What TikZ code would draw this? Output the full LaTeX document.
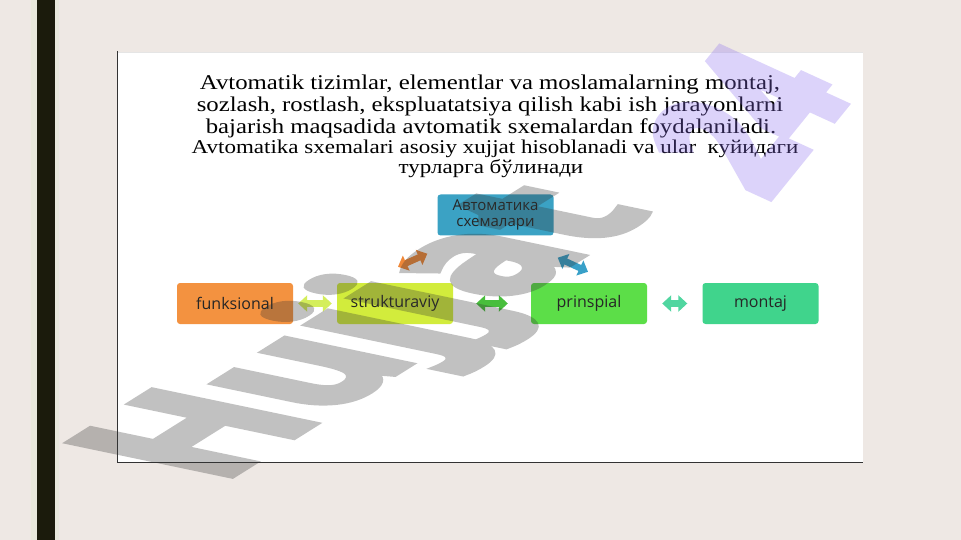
\documentclass[tikz,border=0pt]{standalone}
\usepackage{fontspec}
\setmainfont{Liberation Serif}
\newfontfamily\titlefont[FakeStretch=1.18]{Liberation Serif}
\newfontfamily\boxfont{Open Sans}
\newfontfamily\wmfont[BoldFeatures={FakeBold=4.5}]{Open Sans}
\newfontfamily\wmfontb[BoldFeatures={FakeBold=7}]{Open Sans}
\usetikzlibrary{arrows.meta, calc}

\definecolor{slidebg}{HTML}{EEE8E4}
\definecolor{slidebar}{HTML}{1B1B0C}
\definecolor{barlight}{HTML}{E8E8DC}
\definecolor{avtcol}{HTML}{3BA2C4}
\definecolor{funcol}{HTML}{F39240}
\definecolor{strcol}{HTML}{D2EC3C}
\definecolor{princol}{HTML}{5CDE48}
\definecolor{moncol}{HTML}{40D48C}
\definecolor{arrfs}{HTML}{D4EE5C}
\definecolor{arrsp}{HTML}{48BE3C}
\definecolor{arrpm}{HTML}{50D6A0}
\definecolor{arrorg}{HTML}{F08838}
\definecolor{arrblue}{HTML}{38A0C8}
\definecolor{wmgray}{HTML}{333333}
\definecolor{wmpurple}{HTML}{8C6EF0}

\tikzset{
  box/.style={rounded corners=3pt, minimum width=116pt, minimum height=41pt, inner sep=0pt,
    text=black!85, font=\boxfont\fontsize{16}{17}\selectfont},
  blockarr/.style={line width=6.5pt, {Triangle[width=16pt,length=9pt]}-{Triangle[width=16pt,length=9pt]}},
  bigline/.style={font=\titlefont\fontsize{21}{22}\selectfont, inner sep=0pt},
  smallline/.style={font=\titlefont\fontsize{19.5}{21}\selectfont, inner sep=0pt},
  wmark/.style={transform shape, anchor=base west, inner sep=0pt}
}

\begin{document}
\begin{tikzpicture}[x=1pt, y=-1pt]
    \useasboundingbox (0,0) rectangle (961,540);
    \fill[slidebg] (0,0) rectangle (961,540);
    \fill[barlight] (31,0) rectangle (59,540);
    \fill[slidebar] (37,0) rectangle (55,540);

    \fill[white] (117,52) rectangle (863,462);
    \draw[black!10, line width=1.5pt] (117,52.5) -- (863,52.5);
    \draw[black!80, line width=1.5pt] (117.5,51) -- (117.5,462.5) -- (863,462.5);

    \node[bigline] (t1) at (490,84) {Avtomatik tizimlar, elementlar va moslamalarning montaj,};
    \node[bigline] (t2) at (490,106) {sozlash, rostlash, ekspluatatsiya qilish kabi ish jarayonlarni};
    \node[bigline] (t3) at (491,128) {bajarish maqsadida avtomatik sxemalardan foydalaniladi.};
    \node[smallline] (t4) at (495,149) {Avtomatika sxemalari asosiy xujjat hisoblanadi va ular\ \ куйидаги};
    \node[smallline] (t5) at (491,169) {турларга бўлинади};

    \node[box, fill=avtcol, align=center, font=\boxfont\fontsize{15}{16}\selectfont] (avt) at (495.5,215) {Автоматика\\схемалари};
    \node[box, fill=funcol] (fun) at (235,303.5) {funksional};
    \node[box, fill=strcol] (str) at (395,303.5) {strukturaviy};
    \node[box, fill=princol] (prin) at (589,303.5) {prinspial};
    \node[box, fill=moncol] (mon) at (760.5,303.5) {montaj};

    \coordinate (o1) at ($(str.north)+(3,-16)$);
    \coordinate (o2) at ($(avt.south west)+(-10,18)$);
    \coordinate (b1) at ($(avt.south east)+(4,22)$);
    \coordinate (b2) at ($(prin.north)+(-1,-11)$);

    \draw[blockarr, arrfs, shorten <=5pt, shorten >=5pt] (fun) -- (str);
    \draw[blockarr, arrsp, shorten <=23pt, shorten >=23pt] (str) -- (prin);
    \draw[blockarr, arrpm, shorten <=15pt, shorten >=15pt] (prin) -- (mon);
    \draw[blockarr, arrorg] (o1) -- (o2);
    \draw[blockarr, arrblue] (b1) -- (b2);

    \begin{scope}[transparency group, opacity=0.3]
    \begin{scope}[cm={1.42,0.89,-2.25,0.47,(218,484)}]
        \node[wmark, font=\wmfont\bfseries\fontsize{100}{100}\selectfont, text=wmgray] (wm) at (0,0) {Hujjat};
    \end{scope}
    \begin{scope}[cm={0.743,0.918,-1.68,0.77,(765,200)}]
        \node[wmark, font=\wmfontb\bfseries\fontsize{100}{100}\selectfont, text=wmpurple] (wmnum) at (0,0) {24};
    \end{scope}
    \end{scope}
\end{tikzpicture}
\end{document}
